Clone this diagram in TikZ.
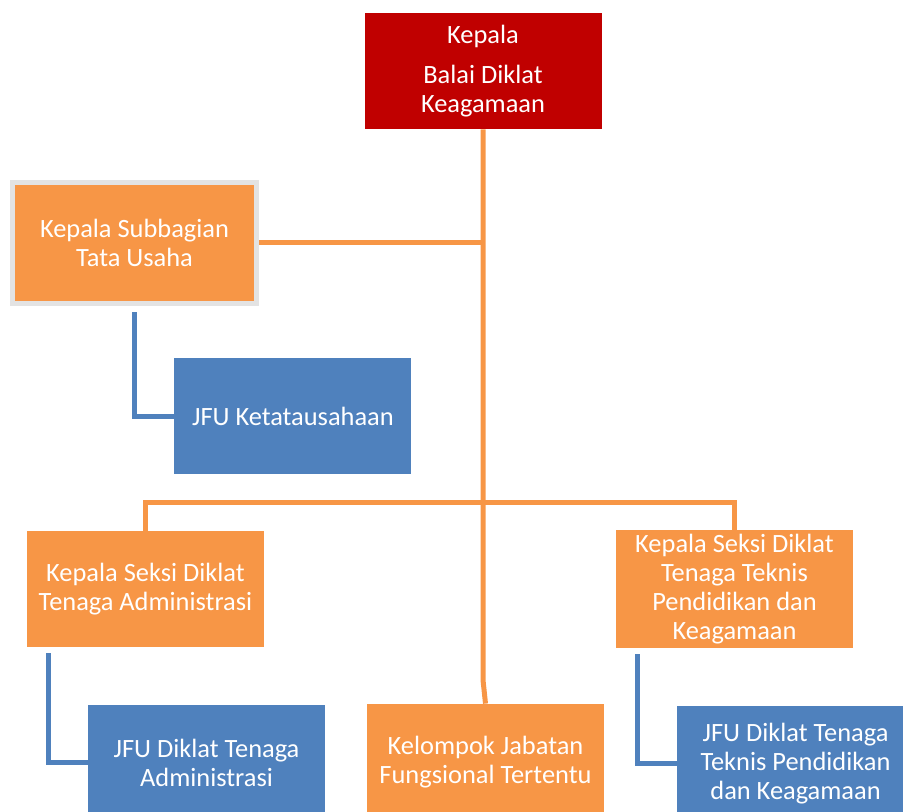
\documentclass[tikz,border=0pt]{standalone}
\usepackage{fontspec}
\setmainfont{Carlito}
\usetikzlibrary{positioning,backgrounds}

\definecolor{kepalaRed}{HTML}{C00000}
\definecolor{seksiOrange}{HTML}{F79646}
\definecolor{jfuBlue}{HTML}{4F81BD}
\definecolor{frameGrey}{HTML}{E3E3E3}

\begin{document}
\begin{tikzpicture}[x=0.5pt,y=-0.5pt,
    box/.style={rectangle, minimum width=118.5pt, minimum height=58pt, inner sep=2pt,
      align=center, text=white, font=\fontsize{13.2}{14.5}\selectfont},
    redBox/.style={box, fill=kepalaRed},
    orangeBox/.style={box, fill=seksiOrange},
    blueBox/.style={box, fill=jfuBlue},
    orangeLine/.style={draw=seksiOrange, line width=2.5pt},
    blueLine/.style={draw=jfuBlue, line width=2.5pt, shorten <=3pt}]
  \path[use as bounding box] (0,0) rectangle (903,812);
  \clip (0,0) rectangle (903,812);

  % Kotak
  \node[redBox] (kepala) at (483,71) {Kepala\\[5.5pt]Balai Diklat\\Keagamaan};
  \node[orangeBox, draw=frameGrey, line width=2.5pt, minimum width=122pt, minimum height=60.5pt]
    (subbag) at (134.5,243) {Kepala Subbagian\\Tata Usaha};
  \node[blueBox, below right=26pt and 82pt of subbag.south west] (jfuTU) {JFU Ketatausahaan};
  \node[orangeBox] (seksiAdm) at (145.5,589) {Kepala Seksi Diklat\\Tenaga Administrasi};
  \node[orangeBox] (seksiTek) at (734.5,589) {Kepala Seksi Diklat\\Tenaga Teknis\\Pendidikan dan\\Keagamaan};
  \node[orangeBox] (kelompok) at (485.5,762) {Kelompok Jabatan\\Fungsional Tertentu};
  \node[blueBox, below right=28.5pt and 30.5pt of seksiAdm.south west] (jfuAdm) {JFU Diklat Tenaga\\Administrasi};
  \node[blueBox, below right=28.5pt and 30.5pt of seksiTek.south west] (jfuTek) {JFU Diklat Tenaga\\Teknis Pendidikan\\dan Keagamaan};

  % Garis
  \begin{scope}[on background layer]
    \coordinate (jog) at (483,680);
    \coordinate (bar) at (483,502);
    \draw[orangeLine] (kepala.south) -- (kepala.south |- jog) -- (kelompok.north);
    \draw[orangeLine] (subbag.east) -- (subbag.east -| kepala.south);
    \draw[orangeLine] (seksiAdm.north) |- (bar) -| (seksiTek.north);
    \draw[blueLine] (subbag.south) |- (jfuTU.west);
    \draw[blueLine] ([xshift=11pt]seksiAdm.south west) |- (jfuAdm.west);
    \draw[blueLine] ([xshift=11pt]seksiTek.south west) |- (jfuTek.west);
  \end{scope}
\end{tikzpicture}
\end{document}
